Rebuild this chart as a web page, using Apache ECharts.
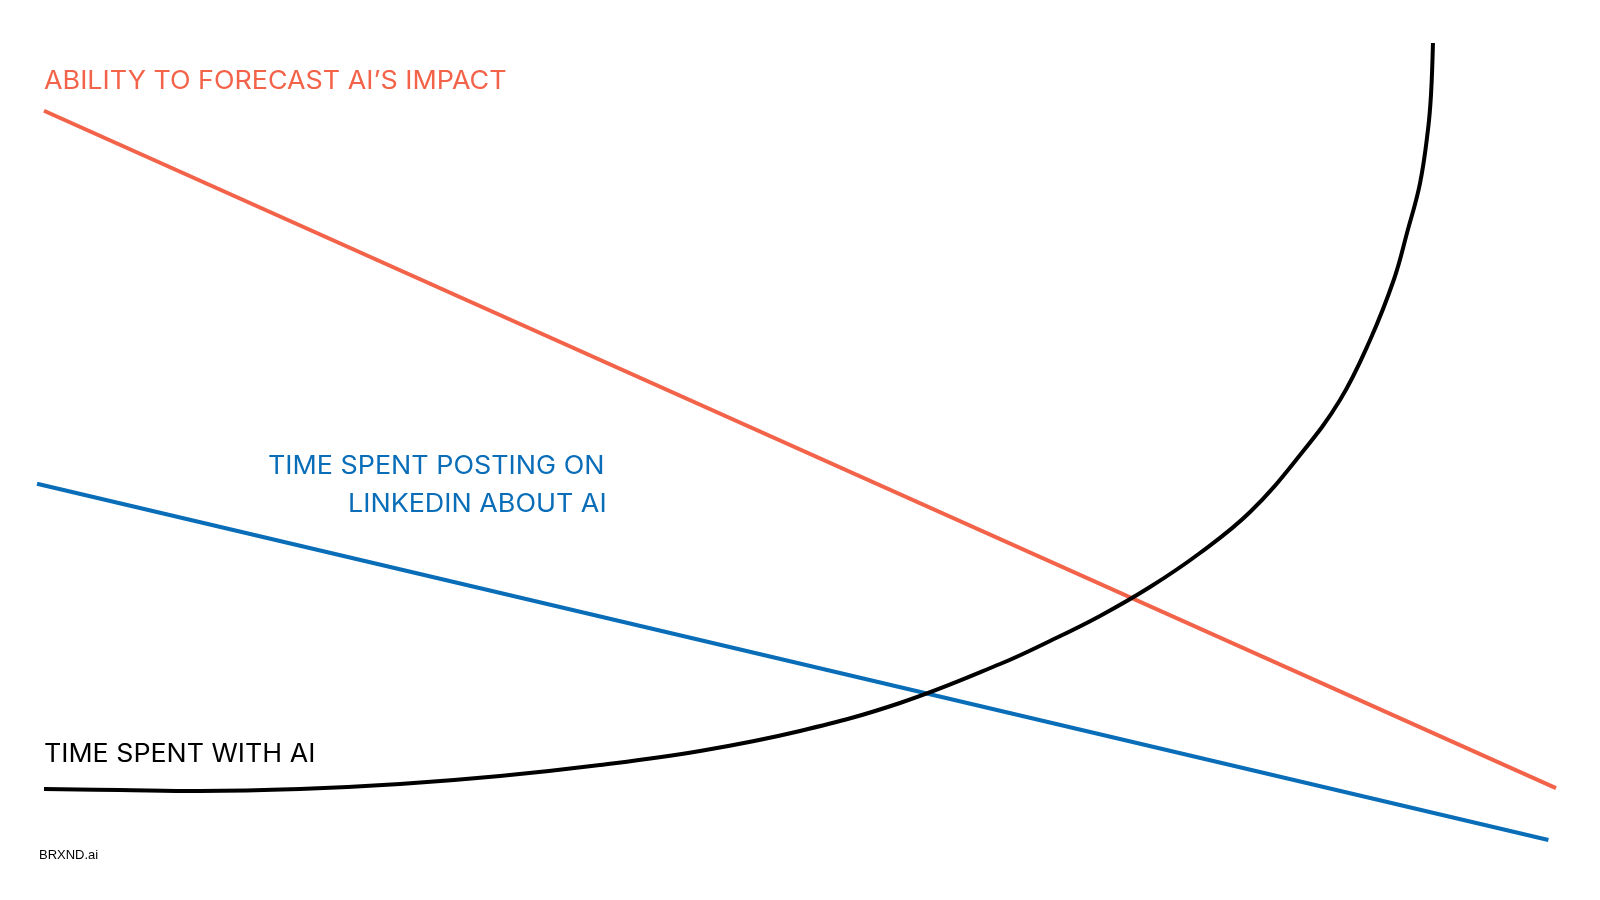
<!DOCTYPE html>
<html>
<head>
<meta charset="utf-8">
<script src="https://cdn.jsdelivr.net/npm/echarts@6/dist/echarts.min.js"></script>
<style>
html,body{margin:0;padding:0;background:#fff;}
#chart{width:1600px;height:900px;}
</style>
</head>
<body>
<div id="chart"></div>
<script>
// Values in abstract units (x: 0..100 time, y: 0..100 level)
const forecastX = [0.46, 100];
const forecastY = [91.5, 6.5];
const linkedinX = [0, 99.5];
const linkedinY = [44.7, 0];
const timeAiX = [0.46, 5.46, 10.73, 17.31, 23.90, 30.48, 37.06, 43.65, 50.23, 56.81, 63.40, 66.69, 69.98, 73.27, 76.56, 79.86, 83.15, 85.78, 87.76, 89.34, 90.19, 91.05, 91.57, 91.77, 91.90];
const timeAiY = [6.40, 6.27, 6.15, 6.40, 7.03, 8.03, 9.41, 11.17, 13.68, 17.19, 22.08, 24.97, 28.11, 31.74, 36.01, 41.15, 48.31, 55.21, 62.74, 70.39, 76.16, 82.43, 89.08, 93.48, 100];

const labels = {
  forecast: 'ABILITY TO FORECAST AI’S IMPACT',
  linkedin1: 'TIME SPENT POSTING ON',
  linkedin2: 'LINKEDIN ABOUT AI',
  timeAi: 'TIME SPENT WITH AI',
  brand: 'BRXND.ai'
};

const RED = '#F3634A', BLUE = '#0A6DB8', BLACK = '#000000';
const zip = (xs, ys) => xs.map((x, i) => [x, ys[i]]);
const FONT = '25px Inter, "Liberation Sans", Arial, sans-serif';
const SX = 1.075;

const chart = echarts.init(document.getElementById('chart'));
chart.setOption({
  backgroundColor: '#ffffff',
  animation: false,
  grid: {left: 37, right: 44, top: 43, bottom: 60},
  xAxis: {type: 'value', min: 0, max: 100, show: false},
  yAxis: {type: 'value', min: 0, max: 100, show: false},
  series: [
    {type: 'line', data: zip(forecastX, forecastY), symbol: 'none',
     lineStyle: {color: RED, width: 4, cap: 'butt'}},
    {type: 'line', data: zip(linkedinX, linkedinY), symbol: 'none',
     lineStyle: {color: BLUE, width: 4, cap: 'butt'}},
    {type: 'line', data: zip(timeAiX, timeAiY), symbol: 'none', smooth: 0.4,
     lineStyle: {color: BLACK, width: 4, cap: 'butt'}}
  ],
  graphic: [
    {type: 'text', x: 44, y: 69, scaleX: SX, style: {text: labels.forecast, fill: RED, font: FONT}},
    {type: 'text', x: 268, y: 454, scaleX: SX, style: {text: labels.linkedin1, fill: BLUE, font: FONT}},
    {type: 'text', x: 348, y: 492, scaleX: SX, style: {text: labels.linkedin2, fill: BLUE, font: FONT}},
    {type: 'text', x: 44, y: 742, scaleX: 1.07, style: {text: labels.timeAi, fill: BLACK, font: FONT}},
    {type: 'text', x: 39, y: 849, style: {text: labels.brand, fill: BLACK,
      font: '13px "Liberation Sans", Arial, sans-serif'}}
  ]
});
</script>
</body>
</html>
